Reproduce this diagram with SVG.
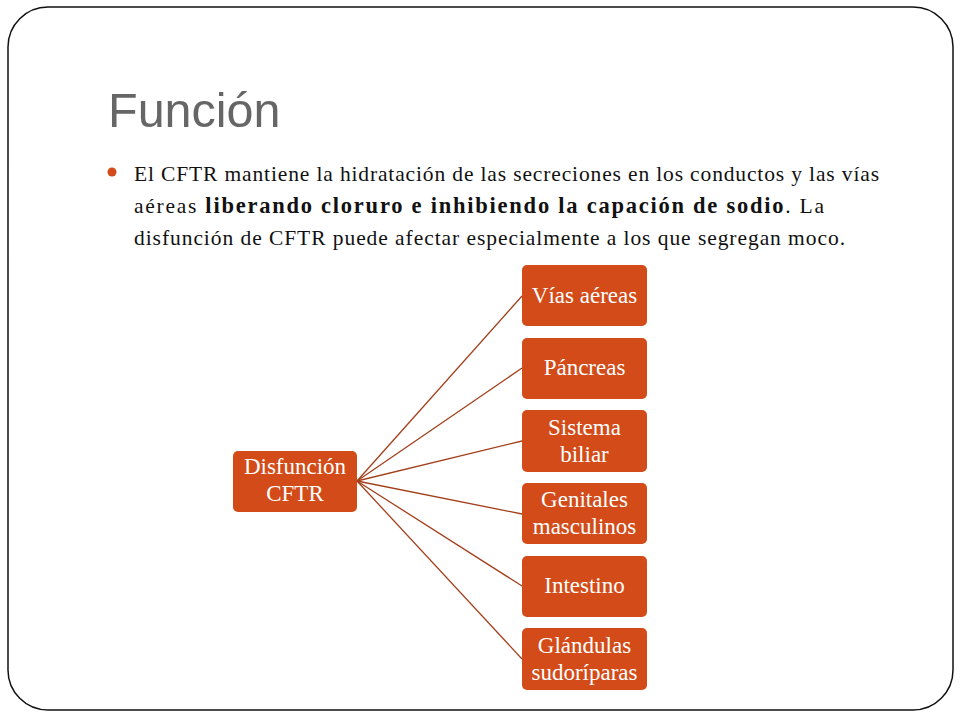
<svg xmlns="http://www.w3.org/2000/svg" width="960" height="720" viewBox="0 0 960 720">
<style>
.node rect{fill:#d24b19;}
.node text{fill:#ffffff;font-family:"Liberation Serif",serif;font-size:23px;text-anchor:middle;}
.conn line{stroke:#a3401c;stroke-width:1.3;}
.body{font-family:"Liberation Serif",serif;font-size:21.5px;fill:#111111;}
</style>
<rect x="0" y="0" width="960" height="720" fill="#ffffff"/>
<rect x="8" y="7" width="945" height="703" rx="40" ry="40" fill="none" stroke="#111111" stroke-width="1.5"/>
<text x="108" y="127" font-family="Liberation Sans, Arial, sans-serif" font-size="48.5" fill="#666666">Función</text>
<circle cx="112" cy="172" r="4.5" fill="#d24b19"/>
<text class="body" x="134" y="181" textLength="745" lengthAdjust="spacing">El CFTR mantiene la hidratación de las secreciones en los conductos y las vías</text>
<text class="body" x="134" y="213" textLength="690" lengthAdjust="spacing">aéreas <tspan font-weight="bold" font-size="22.5">liberando cloruro e inhibiendo la capación de sodio</tspan>. La</text>
<text class="body" x="134" y="245" textLength="711" lengthAdjust="spacing">disfunción de CFTR puede afectar especialmente a los que segregan moco.</text>
<g id="connectors" class="conn">
<line x1="357" y1="481" x2="522" y2="296"/>
<line x1="357" y1="481" x2="522" y2="368"/>
<line x1="357" y1="481" x2="522" y2="441"/>
<line x1="357" y1="481" x2="522" y2="514"/>
<line x1="357" y1="481" x2="522" y2="586"/>
<line x1="357" y1="481" x2="522" y2="659"/>
</g>
<g id="node-disfuncion" class="node">
<rect x="233" y="451" width="124" height="61" rx="5"/>
<text x="295" y="474">Disfunción</text>
<text x="295" y="501">CFTR</text>
</g>
<g id="node-vias" class="node">
<rect x="522" y="265" width="125" height="61" rx="5"/>
<text x="584.5" y="303">Vías aéreas</text>
</g>
<g id="node-pancreas" class="node">
<rect x="522" y="338" width="125" height="61" rx="5"/>
<text x="584.5" y="375">Páncreas</text>
</g>
<g id="node-biliar" class="node">
<rect x="522" y="410" width="125" height="62" rx="5"/>
<text x="584.5" y="435">Sistema</text>
<text x="584.5" y="462">biliar</text>
</g>
<g id="node-genitales" class="node">
<rect x="522" y="483" width="125" height="61" rx="5"/>
<text x="584.5" y="507">Genitales</text>
<text x="584.5" y="534">masculinos</text>
</g>
<g id="node-intestino" class="node">
<rect x="522" y="556" width="125" height="61" rx="5"/>
<text x="584.5" y="593">Intestino</text>
</g>
<g id="node-glandulas" class="node">
<rect x="522" y="628" width="125" height="62" rx="5"/>
<text x="584.5" y="653">Glándulas</text>
<text x="584.5" y="680">sudoríparas</text>
</g>
</svg>
